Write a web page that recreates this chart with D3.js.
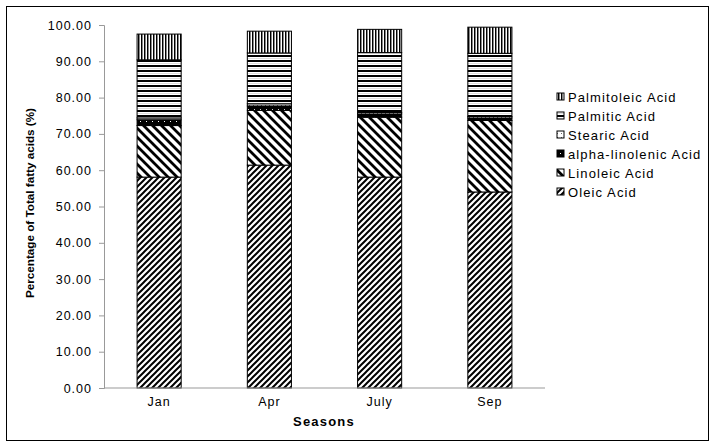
<!DOCTYPE html>
<html><head><meta charset="utf-8">
<script src="https://cdn.jsdelivr.net/npm/d3@7"></script>
<style>
html,body{margin:0;padding:0;background:#fff;}
svg{display:block;font-family:"Liberation Sans",Arial,sans-serif;}
</style></head>
<body>
<svg id="chart" width="715" height="448"></svg>
<script>
const seasons = ["Jan", "Apr", "July", "Sep"];
const seriesNames = ["Oleic Acid", "Linoleic Acid", "alpha-linolenic Acid", "Stearic Acid", "Palmitic Acid", "Palmitoleic Acid"];
const oleic = [58.1, 61.4, 58.1, 54.0];
const linoleic = [14.2, 15.1, 16.5, 19.7];
const alphaLinolenic = [1.6, 1.2, 0.9, 0.7];
const stearic = [0.5, 0.6, 0.4, 0.4];
const palmitic = [16.0, 14.0, 16.5, 17.4];
const palmitoleic = [7.1, 6.0, 6.4, 7.2];
const yTicks = [0, 10, 20, 30, 40, 50, 60, 70, 80, 90, 100];

const seriesValues = [oleic, linoleic, alphaLinolenic, stearic, palmitic, palmitoleic];
const rows = seasons.map((s, i) => {
  const r = {season: s};
  seriesNames.forEach((n, k) => r[n] = seriesValues[k][i]);
  return r;
});

const svg = d3.select("#chart");
const defs = svg.append("defs");

function pat(id, w, h, draw) {
  const p = defs.append("pattern").attr("id", id).attr("patternUnits", "userSpaceOnUse")
    .attr("width", w).attr("height", h);
  p.append("rect").attr("width", w).attr("height", h).attr("fill", "#fff");
  draw(p);
}
// Oleic: "/" diagonal
pat("p0", 6, 6, p => {
  p.append("path").attr("d", "M-1,1 L1,-1 M0,6 L6,0 M5,7 L7,5").attr("stroke", "#000").attr("stroke-width", 2);
});
// Linoleic: "\" diagonal wider
pat("p1", 9, 9, p => {
  p.append("path").attr("d", "M-2,7 L2,11 M0,0 L9,9 M7,-2 L11,2").attr("stroke", "#000").attr("stroke-width", 2.8);
});
// alpha-linolenic: dark with white dots
pat("p2", 6, 4, p => {
  p.select("rect").attr("fill", "#000");
  p.append("rect").attr("x", 2).attr("y", 1).attr("width", 1).attr("height", 1).attr("fill", "#fff");
});
// Stearic: white with small dots
pat("p3", 4, 4, p => {
  p.append("rect").attr("x", 1).attr("y", 1).attr("width", 1).attr("height", 1).attr("fill", "#666");
});
// Palmitic: horizontal lines
pat("p4", 5, 5, p => {
  p.append("rect").attr("x", 0).attr("y", 0).attr("width", 5).attr("height", 2).attr("fill", "#000");
  p.append("rect").attr("x", 0).attr("y", 3).attr("width", 5).attr("height", 1).attr("fill", "#ddd");
});
// Palmitoleic: vertical lines
pat("p5", 3, 3, p => {
  p.append("rect").attr("x", 0).attr("y", 0).attr("width", 1).attr("height", 3).attr("fill", "#000");
  p.append("rect").attr("x", 1).attr("y", 0).attr("width", 1).attr("height", 3).attr("fill", "#888");
});

// outer border
svg.append("rect").attr("x", 6.5).attr("y", 6.5).attr("width", 702).attr("height", 434)
  .attr("fill", "none").attr("stroke", "#000").attr("stroke-width", 1);

const x = d3.scaleBand().domain(seasons).range([104, 545]).paddingInner(0.6).paddingOuter(0.3);
const y = d3.scaleLinear().domain([0, 100]).range([388, 25]);

const stacked = d3.stack().keys(seriesNames)(rows);

const g = svg.append("g");
stacked.forEach((layer, k) => {
  g.append("g").selectAll("rect").data(layer).join("rect")
    .attr("x", d => x(d.data.season))
    .attr("width", x.bandwidth())
    .attr("y", d => y(d[1]))
    .attr("height", d => y(d[0]) - y(d[1]))
    .attr("fill", `url(#p${k})`)
    .attr("stroke", "#000").attr("stroke-width", 1);
});

// y axis
const yAxis = d3.axisLeft(y).tickValues(yTicks).tickFormat(d3.format(".2f")).tickSize(5).tickPadding(7);
const ya = svg.append("g").attr("transform", "translate(104,0)").call(yAxis);
ya.select(".domain").attr("stroke", "#999");
ya.selectAll(".tick line").attr("stroke", "#999");
ya.selectAll(".tick text").attr("font-size", 12.5).attr("fill", "#000")
  .attr("font-family", "'Liberation Sans',Arial,sans-serif").style("letter-spacing", "1px");

// x axis
const xAxis = d3.axisBottom(x).tickSize(0).tickPadding(9);
const xa = svg.append("g").attr("transform", "translate(0,388)").call(xAxis);
xa.select(".domain").attr("stroke", "#999").attr("d", "M104,0H545");
xa.selectAll(".tick text").attr("font-size", 12.5).attr("fill", "#000")
  .attr("font-family", "'Liberation Sans',Arial,sans-serif").style("letter-spacing", "1px");

// axis titles
svg.append("text").attr("x", 324).attr("y", 426).attr("text-anchor", "middle")
  .attr("font-weight", "bold").attr("font-size", 13).style("letter-spacing", "1.2px").text("Seasons");
svg.append("text").attr("transform", "translate(34,203) rotate(-90)").attr("text-anchor", "middle")
  .attr("font-weight", "bold").attr("font-size", 11).attr("textLength", 190).attr("lengthAdjust", "spacingAndGlyphs")
  .text("Percentage of Total fatty acids (%)");

// legend
const legendOrder = seriesNames.map((n, k) => ({n, k})).reverse();
const lg = svg.append("g");
const ly = d3.scalePoint().domain(legendOrder.map(d => d.n)).range([97, 192]);
legendOrder.forEach(d => {
  const yy = ly(d.n);
  lg.append("rect").attr("x", 557).attr("y", yy - 4).attr("width", 7).attr("height", 7)
    .attr("fill", `url(#p${d.k})`).attr("stroke", "#000").attr("stroke-width", 1);
  lg.append("text").attr("x", 568).attr("y", yy + 4.5).attr("font-size", 13)
    .style("letter-spacing", "1.1px").text(d.n);
});
</script>
</body></html>
